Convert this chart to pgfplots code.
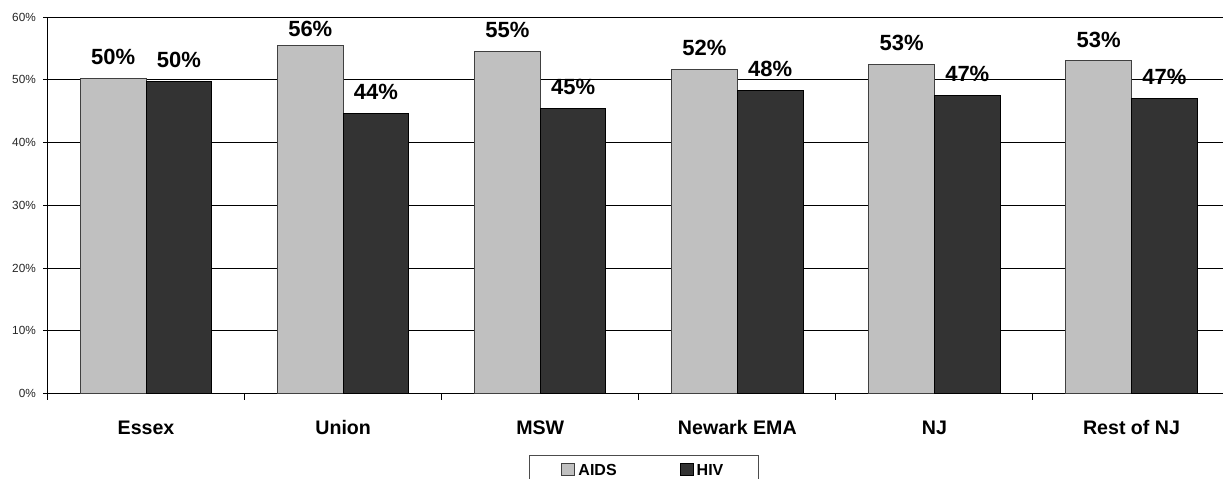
\documentclass[border=0pt]{standalone}
\usepackage{fontspec}
\setmainfont{Liberation Sans}
\usepackage{pgfplots}
\pgfplotsset{compat=1.18}
\definecolor{aidsgray}{HTML}{C0C0C0}
\definecolor{hivgray}{HTML}{333333}
% a label set a little lower than the others
\newcommand{\lowlabel}[1]{\raisebox{-2.7pt}[0pt][0pt]{#1}}

\begin{document}
\begin{tikzpicture}
\begin{axis}[
  at={(0,0)}, anchor=south west,
  scale only axis,
  width=587.75pt, height=188.25pt,
  ybar, bar width=0.3333,
  xmin=-0.5, xmax=5.464,
  ymin=0, ymax=60,
  axis x line*=bottom, axis y line*=left,
  axis line style={black, line width=0.6pt},
  ytick={0,10,...,60},
  yticklabel={\pgfmathprintnumber{\tick}\%},
  /pgf/number format/assume math mode=true,
  y tick label style={font=\fontsize{5.9}{7}\selectfont, xshift=-0.3pt, text=black!85},
  ymajorgrids, grid style={black, line width=0.5pt},
  xtick={0,...,5},
  xticklabels={Essex,Union,MSW,Newark EMA,NJ,Rest of NJ},
  x tick label style={font=\bfseries\fontsize{9.8}{11}\selectfont, yshift=-8pt},
  minor xtick={-0.5,0.5,...,5.5},
  tick align=outside,
  major tick length=2pt, minor tick length=3pt,
  tick style={black, line width=0.5pt},
  major x tick style={draw=none},
  point meta=explicit symbolic,
  nodes near coords={\pgfplotspointmeta},
  nodes near coords style={font=\bfseries\fontsize{11}{13}\selectfont, anchor=south, inner sep=0pt, yshift=6.5pt},
  legend columns=2,
  legend image code/.code={\draw[#1] (0pt,-2.9pt) rectangle (6.5pt,2.9pt);},
  legend style={at={(axis description cs:0.4096,-0.1633)}, anchor=north west,
    draw=black!70, line width=0.5pt, inner xsep=16pt, inner ysep=4pt,
    font=\bfseries\fontsize{8}{8}\selectfont,
    /tikz/every even column/.append style={column sep=30pt},
    nodes={inner xsep=1.5pt, inner ysep=0pt, text height=6pt, text depth=0pt}},
]
\addplot[fill=aidsgray, draw=black!75, line width=0.5pt, bar shift=-0.16667]
  coordinates {(0,50.2)[50\%] (1,55.4)[\lowlabel{56\%}] (2,54.5)[55\%] (3,51.7)[52\%] (4,52.5)[53\%] (5,53.0)[53\%]};
\addlegendentry{AIDS}
\addplot[fill=hivgray, draw=black, line width=0.5pt, bar shift=0.16667]
  coordinates {(0,49.8)[50\%] (1,44.6)[44\%] (2,45.4)[45\%] (3,48.3)[48\%] (4,47.5)[47\%] (5,47.0)[47\%]};
\addlegendentry{HIV}
\end{axis}
\pgfresetboundingbox
\path[use as bounding box] (-23.75pt,-42.25pt) rectangle (587.75pt,196.75pt);
\end{tikzpicture}
\end{document}
